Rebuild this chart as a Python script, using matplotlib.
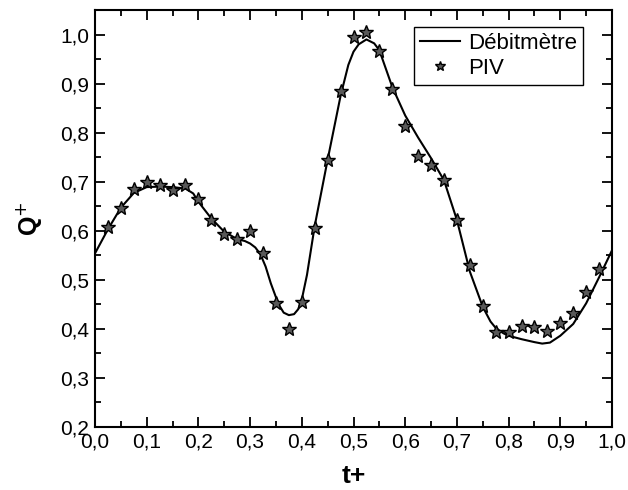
import numpy as np
import matplotlib
matplotlib.use('Agg')
import matplotlib.pyplot as plt
from matplotlib.ticker import MultipleLocator, FuncFormatter

plt.rcParams['font.family'] = ['Liberation Sans', 'DejaVu Sans']

# Débitmètre (flow meter) curve
t_deb = [0.0, 0.025, 0.05, 0.075, 0.1, 0.125, 0.15, 0.175, 0.19, 0.2, 0.225, 0.25, 0.275,
         0.29, 0.3, 0.31, 0.32, 0.33, 0.34, 0.355, 0.365, 0.375, 0.385, 0.393, 0.4, 0.41,
         0.425, 0.45, 0.475, 0.49, 0.5, 0.51, 0.525, 0.54, 0.55, 0.575, 0.6, 0.625, 0.65,
         0.675, 0.7, 0.725, 0.75, 0.765, 0.775, 0.79, 0.8, 0.825, 0.85, 0.865, 0.88, 0.9,
         0.925, 0.95, 0.975, 1.0]
q_deb = [0.554, 0.603, 0.647, 0.677, 0.689, 0.690, 0.689, 0.686, 0.676, 0.659, 0.625, 0.598,
         0.583, 0.579, 0.574, 0.566, 0.552, 0.527, 0.493, 0.450, 0.433, 0.428, 0.430, 0.440,
         0.460, 0.510, 0.610, 0.745, 0.875, 0.938, 0.965, 0.980, 0.990, 0.982, 0.968, 0.893,
         0.835, 0.790, 0.748, 0.703, 0.622, 0.517, 0.445, 0.415, 0.402, 0.391, 0.386, 0.379,
         0.373, 0.370, 0.372, 0.386, 0.410, 0.452, 0.505, 0.560]

# PIV measurements
t_piv = [0.025, 0.05, 0.075, 0.1, 0.125, 0.15, 0.175, 0.2, 0.225, 0.25, 0.275, 0.3, 0.325,
         0.35, 0.375, 0.4, 0.425, 0.45, 0.475, 0.5, 0.525, 0.55, 0.575, 0.6, 0.625, 0.65,
         0.675, 0.7, 0.725, 0.75, 0.775, 0.8, 0.825, 0.85, 0.875, 0.9, 0.925, 0.95, 0.975]
q_piv = [0.608, 0.647, 0.686, 0.700, 0.694, 0.684, 0.693, 0.664, 0.622, 0.593, 0.584, 0.599, 0.555,
         0.452, 0.399, 0.454, 0.606, 0.745, 0.885, 0.994, 1.005, 0.966, 0.888, 0.814, 0.753, 0.734,
         0.703, 0.622, 0.530, 0.447, 0.394, 0.393, 0.406, 0.404, 0.396, 0.411, 0.432, 0.476, 0.523]

fig = plt.figure(figsize=(6.28, 4.90), dpi=100)
ax = fig.add_axes([0.1513, 0.1286, 0.8232, 0.851])

ax.plot(t_deb, q_deb, color='black', lw=1.5, label='Débitmètre')
ax.plot(t_piv, q_piv, ls='none', marker='*', ms=10, mfc='0.35', mec='black', mew=1.0,
        label='PIV')

ax.set_xlim(0, 1.0)
ax.set_ylim(0.2, 1.05)
ax.xaxis.set_major_locator(MultipleLocator(0.1))
ax.xaxis.set_minor_locator(MultipleLocator(0.05))
ax.yaxis.set_major_locator(MultipleLocator(0.1))
ax.yaxis.set_minor_locator(MultipleLocator(0.05))
comma = FuncFormatter(lambda v, p: f'{v:.1f}'.replace('.', ','))
ax.xaxis.set_major_formatter(comma)
ax.yaxis.set_major_formatter(comma)
ax.tick_params(which='both', direction='in', top=True, right=True, width=1.3)
ax.tick_params(which='major', length=7, labelsize=15, pad=4)
ax.tick_params(which='minor', length=4)
for s in ax.spines.values():
    s.set_linewidth(1.5)

ax.set_xlabel('t+', fontsize=19, fontweight='bold', labelpad=9)
ax.set_ylabel('Q$^{+}$', fontsize=18, fontweight='bold', labelpad=12)

leg = ax.legend(loc='upper right', bbox_to_anchor=(0.944, 0.959), borderaxespad=0,
                fontsize=16, fancybox=False, edgecolor='black', framealpha=1,
                handlelength=1.8, borderpad=0.25, labelspacing=0.2, handletextpad=0.4,
                markerscale=0.7)
leg.get_frame().set_linewidth(1.0)

fig.savefig('out.png', dpi=100)
